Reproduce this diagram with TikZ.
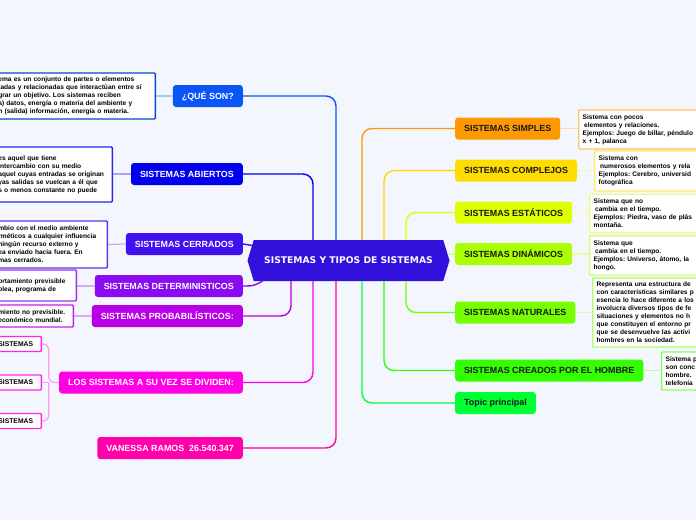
\documentclass[tikz,border=0pt]{standalone}
\usepackage{fontspec}
\setmainfont{Liberation Sans}
\newfontfamily\hexfont{DejaVu Sans}
\usepackage{xcolor}
\usetikzlibrary{calc}
\usetikzlibrary{shapes.symbols}
\frenchspacing

\definecolor{bgcol}{HTML}{F4F6FE}
\definecolor{hubcol}{HTML}{3210DC}
\definecolor{quecol}{HTML}{0B55F8}
\definecolor{abicol}{HTML}{0000EE}
\definecolor{cercol}{HTML}{4010EE}
\definecolor{detcol}{HTML}{8A0BEF}
\definecolor{procol}{HTML}{B800E6}
\definecolor{divcol}{HTML}{FF00E6}
\definecolor{vancol}{HTML}{FF00AA}
\definecolor{simcol}{HTML}{FF9900}
\definecolor{comcol}{HTML}{FFDD00}
\definecolor{estcol}{HTML}{DDFF00}
\definecolor{dincol}{HTML}{AAFF00}
\definecolor{natcol}{HTML}{77FF00}
\definecolor{crecol}{HTML}{33FF00}
\definecolor{topcol}{HTML}{00FF33}

\tikzset{
  lefttopic/.style={fill=#1, text=white, rounded corners=3pt, inner xsep=9pt, inner ysep=0pt,
    minimum height=22pt, anchor=east, font=\fontsize{8.9}{10}\selectfont\bfseries},
  righttopic/.style={fill=#1, text=black!90, rounded corners=3pt, inner xsep=9pt, inner ysep=0pt,
    minimum height=22pt, anchor=west, font=\fontsize{8.9}{10}\selectfont\bfseries},
  notebox/.style={draw=#1, fill=white, line width=1.3pt, rounded corners=1pt, align=left,
    inner xsep=4pt, inner ysep=1pt, font=\fontsize{6.6}{8}\selectfont\bfseries},
  hubline/.style={draw=#1, line width=1.4pt, rounded corners=10pt},
  noteline/.style={draw=#1, line width=1.2pt, rounded corners=6pt},
}

\begin{document}
\begin{tikzpicture}[x=1pt,y=-1pt]
        \useasboundingbox (0,0) rectangle (696,520);
        \fill [bgcol] (0,0) rectangle (696,520);%

        % Central topic
        \node (hub) [signal, signal to=west and east, signal pointer angle=146, fill=hubcol,
          minimum width=202pt, minimum height=41pt, inner sep=0pt, text=white,
          font=\hexfont\fontsize{9.2}{11}\selectfont\bfseries] at (348.5,260.5) {SISTEMAS Y TIPOS DE SISTEMAS};%

        % Left topics
        \node (que) [lefttopic=quecol] at (243,96) {¿QUÉ SON?};%
        \node (abi) [lefttopic=abicol] at (243,174) {SISTEMAS ABIERTOS};%
        \node (cer) [lefttopic=cercol] at (243,244) {SISTEMAS CERRADOS};%
        \node (det) [lefttopic=detcol] at (243,286) {SISTEMAS DETERMINISTICOS};%
        \node (pro) [lefttopic=procol] at (243,316) {SISTEMAS PROBABILÍSTICOS:};%
        \node (div) [lefttopic=divcol] at (243,382.5) {LOS SISTEMAS A SU VEZ SE DIVIDEN:};%
        \node (van) [lefttopic=vancol] at (243,448) {VANESSA RAMOS\ \ 26.540.347};%

        % Right topics
        \node (sim) [righttopic=simcol] at (455,128.5) {SISTEMAS SIMPLES};%
        \node (com) [righttopic=comcol] at (455,170.5) {SISTEMAS COMPLEJOS};%
        \node (est) [righttopic=estcol] at (455,212.5) {SISTEMAS ESTÁTICOS};%
        \node (din) [righttopic=dincol] at (455,254) {SISTEMAS DINÁMICOS};%
        \node (nat) [righttopic=natcol] at (455,312.5) {SISTEMAS NATURALES};%
        \node (cre) [righttopic=crecol] at (455,370.5) {SISTEMAS CREADOS POR EL HOMBRE};%
        \node (top) [righttopic=topcol] at (455,403) {Topic principal};%

        % Left notes
        \node (queN) [notebox=quecol!85!black, anchor=east, text width=153pt, minimum height=46pt] at (156,96)
          {ema es un conjunto de partes o elementos\\tadas y relacionadas que interactúan entre sí\\grar un objetivo. Los sistemas reciben\\a) datos, energía o materia del ambiente y\\n (salida) información, energía o materia.};%
        \node (abiN) [notebox=abicol!85!white, anchor=east, text width=110pt, minimum height=55pt] at (113,174.5)
          {es aquel que tiene\\intercambio con su medio\\aquel cuyas entradas se originan\\yas salidas se vuelcan a él que\\s o menos constante no puede};%
        \node (cerN) [notebox=cercol!85!white, anchor=east, text width=105pt, minimum height=47pt] at (108,244.5)
          {mbio con el medio ambiente\\rméticos a cualquier influencia\\ningún recurso externo y\\ea enviado hacia fuera. En\\mas cerrados.};%
        \node (detN) [notebox=detcol!85!white, anchor=east, text width=74pt, minimum height=31pt] at (77,285.5)
          {ortamiento previsible\\olea, programa de};%
        \node (proN) [notebox=procol!85!white, anchor=east, text width=71pt, minimum height=22pt] at (74,316)
          {miento no previsible.\\económico mundial.};%
        \node (divA) [notebox=divcol!85!white, anchor=east, text width=39pt, minimum height=15pt,
          font=\fontsize{6.8}{8}\selectfont\bfseries] at (42,344) {SISTEMAS};%
        \node (divB) [notebox=divcol!85!white, anchor=east, text width=39pt, minimum height=15pt,
          font=\fontsize{6.8}{8}\selectfont\bfseries] at (42,382.5) {SISTEMAS};%
        \node (divC) [notebox=divcol!85!white, anchor=east, text width=39pt, minimum height=15pt,
          font=\fontsize{6.8}{8}\selectfont\bfseries] at (42,421) {SISTEMAS};%

        % Right notes
        \node (simN) [notebox=simcol!60!white, anchor=west, text width=200pt, minimum height=39pt] at (578,129.5)
          {Sistema con pocos\\\hspace{1.5pt}elementos y relaciones.\\Ejemplos: Juego de billar, péndulo\\x + 1, palanca};%
        \node (comN) [notebox=comcol!60!white, anchor=west, text width=200pt, minimum height=40pt] at (594,171)
          {Sistema con\\\hspace{1.5pt}numerosos elementos y rela\\Ejemplos: Cerebro, universid\\fotográfica};%
        \node (estN) [notebox=estcol!55!white, anchor=west, text width=200pt, minimum height=38pt] at (589,213.5)
          {Sistema que no\\\hspace{1.5pt}cambia en el tiempo.\\Ejemplos: Piedra, vaso de plás\\montaña.};%
        \node (dinN) [notebox=dincol!55!white, anchor=west, text width=200pt, minimum height=39pt] at (589,255.5)
          {Sistema que\\\hspace{1.5pt}cambia en el tiempo.\\Ejemplos: Universo, átomo, la\\hongo.};%
        \node (natN) [notebox=natcol!60!white, anchor=west, text width=200pt, minimum height=69pt] at (592,312.5)
          {Representa una estructura de\\con características similares p\\esencia lo hace diferente a los\\involucra diversos tipos de fe\\situaciones y elementos no h\\que constituyen el entorno pr\\que se desenvuelve las activi\\hombres en la sociedad.};%
        \node (creN) [notebox=crecol!60!white, anchor=west, text width=200pt, minimum height=38pt] at (661,371)
          {Sistema p\\son conc\\hombre.\\telefonía};%

        % Drawing hub connectors, left side
        \draw [hubline=quecol] (que.east) -| ($(hub.north)+(-12.5,0)$);%
        \draw [hubline=abicol] (abi.east) -| ($(hub.north)+(-35.5,0)$);%
        \draw [hubline=cercol] (cer.east) -- (hub);%
        \draw [hubline=detcol] (det.east) .. controls +(12,0) and +(-8,4) .. ($(hub.south)+(-86,0)$);%
        \draw [hubline=procol] (pro.east) -| ($(hub.south)+(-57.5,0)$);%
        \draw [hubline=divcol] (div.east) -| ($(hub.south)+(-35.5,0)$);%
        \draw [hubline=vancol] (van.east) -| ($(hub.south)+(-12.5,0)$);%

        % Drawing hub connectors, right side
        \draw [hubline=simcol] ($(hub.north)+(13.5,0)$) |- (sim.west);%
        \draw [hubline=comcol!90!orange] ($(hub.north)+(35.5,0)$) |- (com.west);%
        \draw [hubline=estcol] ($(hub.north)+(57.5,0)$) |- (est.west);%
        \draw [hubline=dincol!60!white] (din.west) -- (hub);%
        \draw [hubline=natcol] ($(hub.south)+(57.5,0)$) |- (nat.west);%
        \draw [hubline=crecol] ($(hub.south)+(35.5,0)$) |- (cre.west);%
        \draw [hubline=topcol] ($(hub.south)+(13.5,0)$) |- (top.west);%

        % Drawing note connectors
        \draw [noteline=quecol!35!white] (queN.east) -- (que.west);%
        \draw [noteline=abicol!35!white] (abiN.east |- abi.west) -- (abi.west);%
        \draw [noteline=cercol!35!white] (cerN.east) -- (cer.west);%
        \draw [noteline=detcol!35!white] (detN.east |- det.west) -- (det.west);%
        \draw [noteline=procol!35!white] (proN.east) -- (pro.west);%
        \coordinate (fork) at ($(divB.east)!0.4!(div.west)$);%
        \draw [noteline=divcol!40!white] (divA.east) -| (fork) -- (div.west);%
        \draw [noteline=divcol!40!white] (divC.east) -| (fork);%
        \draw [noteline=divcol!40!white] (divB.east) -- (fork);%
        \draw [noteline=simcol!35!white] (sim.east) -- (sim.east -| simN.west);%
        \draw [noteline=comcol!35!white] (com.east) -- (com.east -| comN.west);%
        \draw [noteline=estcol!35!white] (est.east) -- (est.east -| estN.west);%
        \draw [noteline=dincol!35!white] (din.east) -- (din.east -| dinN.west);%
        \draw [noteline=natcol!35!white] (nat.east) -- (natN.west);%
        \draw [noteline=crecol!35!white] (cre.east) -- (cre.east -| creN.west);%
\end{tikzpicture}
\end{document}
